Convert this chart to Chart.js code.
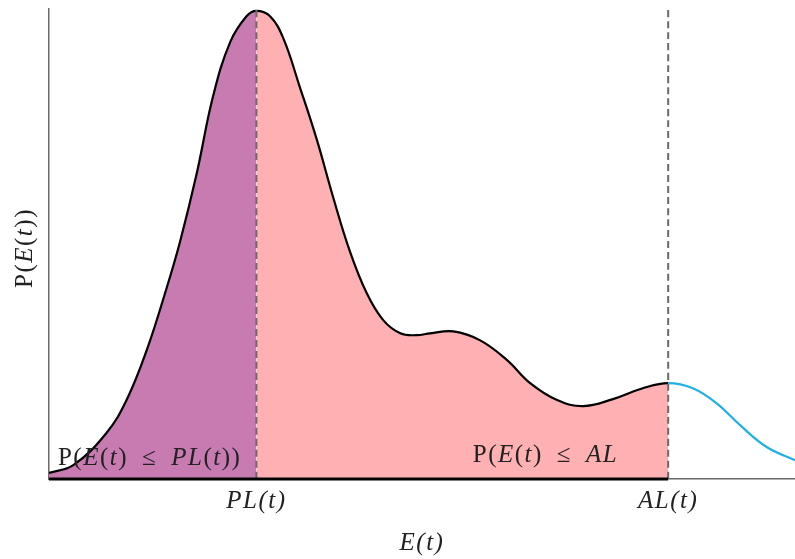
<!DOCTYPE html>
<html>
<head>
<meta charset="utf-8">
<script src="https://cdn.jsdelivr.net/npm/chart.js@4/dist/chart.umd.min.js"></script>
<style>
  html, body { margin: 0; padding: 0; background: #fff; }
  #wrap { width: 795px; height: 559px; position: relative; }
</style>
</head>
<body>
<div id="wrap"><canvas id="c"></canvas></div>
<script>
// Error distribution E(t) and its density P(E(t))
const energy = [0, 0.33, 0.77, 1.04, 1.31, 1.58, 1.76, 1.98, 2.20, 2.43, 2.65, 2.78,
  2.96, 3.14, 3.36, 3.59, 3.81, 4.03, 4.26, 4.48, 4.71, 4.93, 5.11, 5.42, 5.78, 6.14,
  6.45, 6.81, 7.16, 7.56, 7.96, 8.30, 8.63, 8.95, 9.26, 9.62, 10.0];
const density = [0.013, 0.030, 0.098, 0.168, 0.274, 0.408, 0.507, 0.650, 0.815, 0.930, 0.985, 0.996,
  0.985, 0.938, 0.835, 0.722, 0.599, 0.486, 0.395, 0.338, 0.310, 0.306, 0.310, 0.314, 0.295, 0.253,
  0.204, 0.168, 0.155, 0.170, 0.193, 0.204, 0.193, 0.161, 0.115, 0.068, 0.040];

// Protection level and alert limit on the E(t) axis
const PL = 2.78;
const AL = 8.30;
const tickValues = [PL, AL];
const tickLabels = ['PL(t)', 'AL(t)'];
const xTitle = 'E(t)';

const pts = energy.map((x, i) => ({ x, y: density[i] }));

const PURPLE = '#c77bb1';
const PINK = '#feb0b2';
const BLUE = '#1fb0e4';
const GRAY = '#6a6a6a';
const INK = '#222';
const SERIF = '"Liberation Serif", "DejaVu Serif", serif';
const SPACING = '1.5px';

// Text with upright/italic runs (math style); 1 = italic
const annotations = [
  { x: 0.12, y: 0.03, runs: [['P(', 0], ['E', 1], ['(', 0], ['t', 1], [')\u2002\u2264\u2002', 0], ['PL', 1], ['(', 0], ['t', 1], ['))', 0]] },
  { x: 5.68, y: 0.036, runs: [['P(', 0], ['E', 1], ['(', 0], ['t', 1], [')\u2002\u2264\u2002', 0], ['AL', 1]] }
];
const yTitleRuns = [['P(', 0], ['E', 1], ['(', 0], ['t', 1], ['))', 0]];

function drawRuns(ctx, runs, x, y, size, align) {
  let w = 0;
  for (const [txt, it] of runs) {
    ctx.font = (it ? 'italic ' : '') + size + 'px ' + SERIF;
    w += ctx.measureText(txt).width;
  }
  let px = align === 'center' ? x - w / 2 : x;
  for (const [txt, it] of runs) {
    ctx.font = (it ? 'italic ' : '') + size + 'px ' + SERIF;
    ctx.fillText(txt, px, y);
    px += ctx.measureText(txt).width;
  }
}

const textPlugin = {
  id: 'mathText',
  beforeDraw(chart) {
    chart.ctx.letterSpacing = SPACING;
  },
  afterDatasetsDraw(chart) {
    const { ctx, scales, chartArea } = chart;
    ctx.save();
    ctx.fillStyle = INK;
    ctx.textBaseline = 'alphabetic';
    ctx.textAlign = 'left';
    for (const a of annotations) {
      drawRuns(ctx, a.runs, scales.x.getPixelForValue(a.x), scales.y.getPixelForValue(a.y), 25, 'left');
    }
    // vertical axis title
    ctx.translate(32, (chartArea.top + chartArea.bottom) / 2 + 4);
    ctx.rotate(-Math.PI / 2);
    drawRuns(ctx, yTitleRuns, 0, 0, 25, 'center');
    ctx.restore();
  }
};

const lineBase = { pointRadius: 0, tension: 0.4 };

new Chart(document.getElementById('c'), {
  type: 'line',
  data: {
    datasets: [
      { ...lineBase, label: 'density', data: pts, fill: 'origin', order: 2,
        borderWidth: 2.2, borderColor: '#000', backgroundColor: PINK,
        segment: {
          borderColor: (c) => c.p0.parsed.x >= AL ? BLUE : '#000',
          backgroundColor: (c) => c.p0.parsed.x < PL ? PURPLE : (c.p0.parsed.x < AL ? PINK : 'rgba(0,0,0,0)')
        } },
      { ...lineBase, label: 'PL', data: [{ x: PL, y: 0 }, { x: PL, y: 1 }],
        borderColor: GRAY, borderWidth: 2, borderDash: [7, 4], fill: false, order: 1 },
      { ...lineBase, label: 'AL', data: [{ x: AL, y: 0 }, { x: AL, y: 1 }],
        borderColor: GRAY, borderWidth: 2, borderDash: [7, 4], fill: false, order: 1 },
      { ...lineBase, label: 'base', data: [{ x: 0, y: 0 }, { x: AL, y: 0 }],
        borderColor: '#000', borderWidth: 3, fill: false, clip: 4, order: 0 }
    ]
  },
  options: {
    responsive: true,
    maintainAspectRatio: false,
    animation: false,
    layout: { padding: { top: 9, right: 0, left: 0, bottom: 0 } },
    plugins: { legend: { display: false }, tooltip: { enabled: false } },
    scales: {
      x: {
        type: 'linear', min: 0, max: 10,
        grid: { display: false, drawTicks: false },
        border: { display: true, color: GRAY, width: 1.5 },
        afterBuildTicks: (s) => { s.ticks = tickValues.map(v => ({ value: v })); },
        afterFit: (s) => { s.height = 80; },
        ticks: {
          padding: 7, autoSkip: false, maxRotation: 0, color: INK,
          font: { family: SERIF, size: 25, style: 'italic' },
          callback: (v) => tickLabels[tickValues.indexOf(v)] ?? ''
        },
        title: { display: true, text: xTitle, color: INK,
          font: { family: SERIF, size: 25, style: 'italic' }, padding: { top: 0, bottom: 1 } }
      },
      y: {
        type: 'linear', min: 0, max: 1,
        grid: { display: false, drawTicks: false },
        border: { display: true, color: GRAY, width: 1.5 },
        ticks: { display: false },
        afterFit: (s) => { s.width = 49; },
        title: { display: false }
      }
    }
  },
  plugins: [textPlugin]
});
</script>
</body>
</html>
